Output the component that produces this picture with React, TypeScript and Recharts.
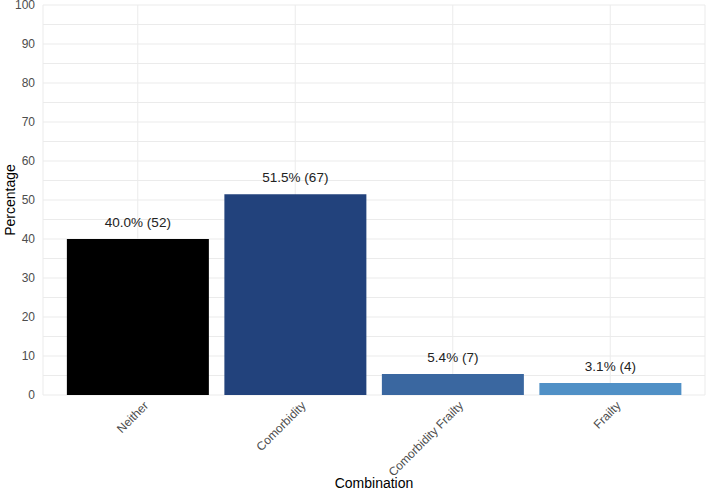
import { BarChart, Bar, XAxis, YAxis, CartesianGrid, Cell, LabelList } from 'recharts';

const categories = ['Neither', 'Comorbidity', 'Comorbidity Frailty', 'Frailty'];
const percentages = [40.0, 51.5, 5.4, 3.1];
const counts = [52, 67, 7, 4];
const barColors = ['#000000', '#22427c', '#3a67a0', '#5090c6'];
const yTicks = [0, 5, 10, 15, 20, 25, 30, 35, 40, 45, 50, 55, 60, 65, 70, 75, 80, 85, 90, 95, 100];

const data = categories.map((name, i) => ({
    name,
    pct: percentages[i],
    label: `${percentages[i].toFixed(1)}% (${counts[i]})`,
}));

const FONT = 'Arial, "Liberation Sans", sans-serif';

function RotatedTick({ x, y, payload }: any) {
    return (
        <g transform={`translate(${x + 5},${y - 3})`}>
            <text
                transform="rotate(-45)"
                textAnchor="end"
                dy="0.75em"
                fill="#4d4d4d"
                fontSize={12}
                fontFamily={FONT}
            >
                {payload.value}
            </text>
        </g>
    );
}

export default function App() {
    return (
        <div style={{ position: 'absolute', left: 0, top: 0, background: '#fff' }}>
            <BarChart
                width={708}
                height={491}
                data={data}
                margin={{ top: 5, right: 3, bottom: 0, left: 0 }}
                barCategoryGap="5%"
            >
                <CartesianGrid stroke="#ebebeb" strokeWidth={1} />
                <XAxis
                    dataKey="name"
                    axisLine={false}
                    tickLine={false}
                    interval={0}
                    height={96}
                    padding={{ left: 16, right: 16 }}
                    tick={<RotatedTick />}
                    label={{
                        value: 'Combination',
                        position: 'insideBottom',
                        offset: 3,
                        fill: '#000',
                        fontSize: 14,
                        fontFamily: FONT,
                    }}
                />
                <YAxis
                    domain={[0, 100]}
                    ticks={yTicks}
                    interval={0}
                    axisLine={false}
                    tickLine={false}
                    width={43}
                    tick={{ fill: '#4d4d4d', fontSize: 12, fontFamily: FONT }}
                    tickFormatter={(v: number) => (v % 10 === 0 ? String(v) : '')}
                    label={{
                        value: 'Percentage',
                        angle: -90,
                        position: 'insideLeft',
                        offset: 10,
                        fill: '#000',
                        fontSize: 14,
                        fontFamily: FONT,
                        style: { textAnchor: 'middle' },
                    }}
                />
                <Bar dataKey="pct" isAnimationActive={false}>
                    {data.map((d, i) => (
                        <Cell key={d.name} fill={barColors[i]} />
                    ))}
                    <LabelList
                        dataKey="label"
                        position="top"
                        offset={12}
                        fill="#222"
                        fontSize={13.5}
                        fontFamily={FONT}
                    />
                </Bar>
            </BarChart>
        </div>
    );
}
